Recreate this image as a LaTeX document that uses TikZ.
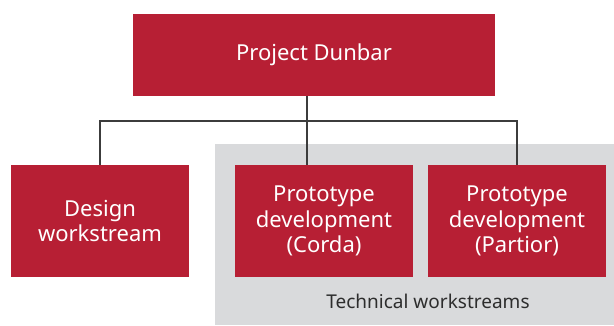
\documentclass[tikz,border=0pt]{standalone}
\usepackage{fontspec}
\setmainfont{Noto Sans}
\definecolor{boxred}{RGB}{183,31,52}
\definecolor{panelgray}{RGB}{217,218,220}
\definecolor{linegray}{RGB}{60,60,60}
\definecolor{labeltext}{RGB}{45,45,45}
\tikzset{
  redbox/.style={fill=boxred, draw=none, text=white, align=center, inner sep=0pt,
    font=\fontsize{22}{25.5}\selectfont},
  conn/.style={draw=linegray, line width=1.1pt},
}
\begin{document}
\begin{tikzpicture}[x=1pt,y=-1pt]
\useasboundingbox (0,0) rectangle (614,325);
\fill[panelgray] (215,144) rectangle (614,325);
\node[redbox, minimum width=362pt, minimum height=82pt] (top) at (314,55) {Project Dunbar};
\node[redbox, minimum width=178pt, minimum height=112pt] (design) at (100,221) {Design\\workstream};
\node[redbox, minimum width=178pt, minimum height=112pt] (corda) at (324,221) {Prototype\\development\\(Corda)};
\node[redbox, minimum width=178pt, minimum height=112pt] (partior) at (517,221) {Prototype\\development\\(Partior)};
\node[text=labeltext, font=\fontsize{19}{22}\selectfont] (tech) at (428,301) {Technical workstreams};
\coordinate (j) at (307,121);
\draw[conn] (top.south -| j) -- (j |- corda.north);
\draw[conn] (design.north) |- (j) -| (partior.north);
\end{tikzpicture}
\end{document}
